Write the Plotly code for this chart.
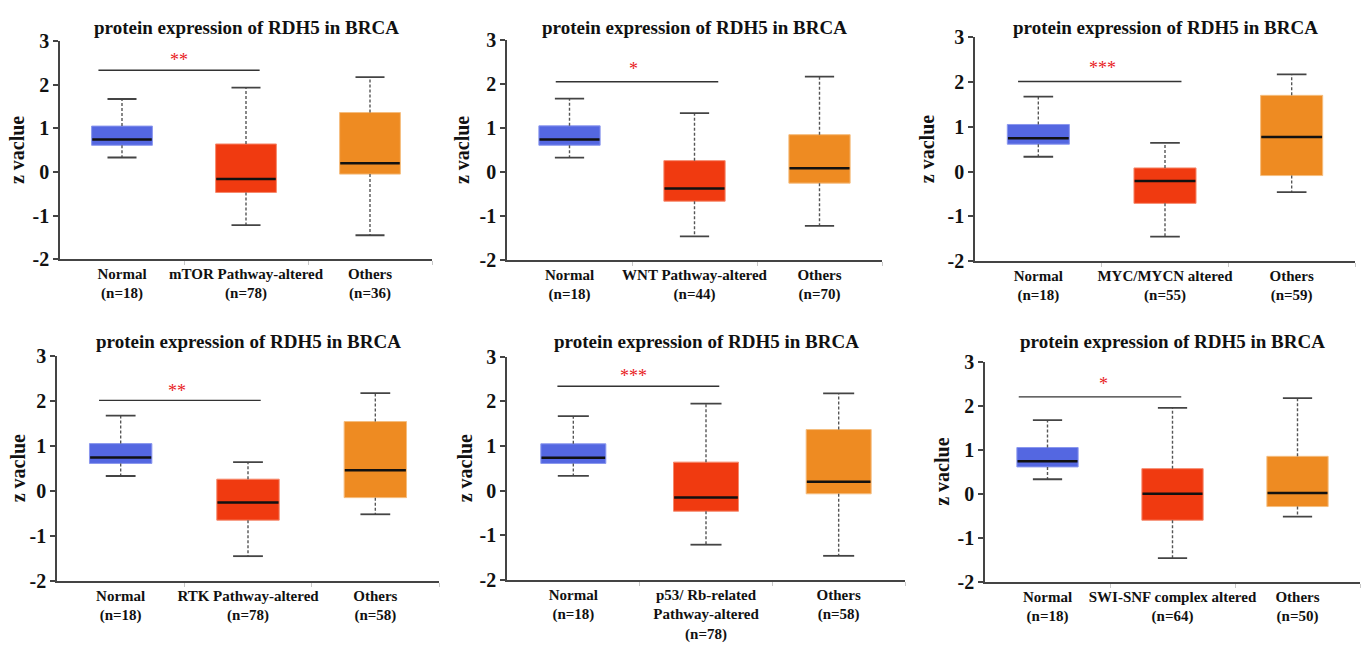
import plotly.graph_objects as go

# ---------------- data ----------------
panel_title = "protein expression of RDH5 in BRCA"
altered_groups = ["mTOR Pathway-altered", "WNT Pathway-altered", "MYC/MYCN altered",
                  "RTK Pathway-altered", "p53/ Rb-related<br>Pathway-altered", "SWI-SNF complex altered"]
n_normal = 18
n_altered = [78, 44, 55, 78, 78, 64]
n_others = [36, 70, 59, 58, 58, 50]

upper_fence = [[1.67, 1.93, 2.17], [1.67, 1.34, 2.17], [1.67, 0.64, 2.17],
               [1.67, 0.64, 2.17], [1.67, 1.95, 2.18], [1.67, 1.95, 2.17]]
q3 = [[1.05, 0.64, 1.36], [1.05, 0.26, 0.85], [1.05, 0.08, 1.70],
      [1.05, 0.26, 1.54], [1.05, 0.64, 1.37], [1.05, 0.57, 0.85]]
median = [[0.74, -0.16, 0.20], [0.74, -0.37, 0.09], [0.74, -0.21, 0.77],
          [0.74, -0.26, 0.46], [0.74, -0.15, 0.20], [0.74, 0.00, 0.02]]
q1 = [[0.61, -0.47, -0.05], [0.61, -0.66, -0.25], [0.61, -0.71, -0.09],
      [0.61, -0.65, -0.15], [0.61, -0.46, -0.07], [0.61, -0.60, -0.29]]
lower_fence = [[0.33, -1.22, -1.45], [0.33, -1.46, -1.22], [0.33, -1.45, -0.46],
               [0.33, -1.45, -0.52], [0.33, -1.21, -1.46], [0.33, -1.46, -0.52]]

sig_labels = ["**", "*", "***", "**", "***", "*"]
sig_y = [2.33, 2.05, 2.01, 2.01, 2.34, 2.20]
y_ticks = [-2, -1, 0, 1, 2, 3]
y_tick_text = ["-2", "-1", "0", "1", "2", "3"]

# ---------------- layout / style ----------------
W, H = 1365, 646
# axis pixel boxes: (x0, x1, ytop, ybottom)
boxes_px = [(60, 432, 31, 257), (507, 882, 30, 258), (975, 1355, 27, 259),
            (57, 439, 357, 590), (507, 905, 358, 589), (985, 1360, 363, 591)]
title_py = [17, 17, 17, 342, 342, 342]
ytitle_px = [17, 462, 927, 18, 465, 942]
sig_x0 = [-0.19, -0.11, -0.16, -0.17, -0.12, -0.23]
sig_x1 = [1.11, 1.19, 1.13, 1.10, 1.10, 1.07]
star_x = [0.46, 0.51, 0.51, 0.445, 0.455, 0.45]
star_dy = [0.23, 0.29, 0.29, 0.20, 0.24, 0.30]

fill_colors = ["#5467e1", "#f03a10", "#ee8b22"]
edge_colors = ["#8a97ee", "#f6896c", "#f5bd7e"]
FONT = "Liberation Serif"
BOX_W = 0.49
CAP_HALF = 0.117

fig = go.Figure()
layout = dict(width=W, height=H, margin=dict(l=0, r=0, t=0, b=0),
              paper_bgcolor="white", plot_bgcolor="white", showlegend=False,
              font=dict(family=FONT), annotations=[])

for p in range(6):
    k = "" if p == 0 else str(p + 1)
    xa, ya = "x" + k, "y" + k
    x0, x1, yt, yb = boxes_px[p]
    labels = [f"<b>Normal</b><br><b>(n={n_normal})</b>",
              "<br>".join(f"<b>{s}</b>" for s in altered_groups[p].split("<br>")) + f"<br><b>(n={n_altered[p]})</b>",
              f"<b>Others</b><br><b>(n={n_others[p]})</b>"]
    # boxes as floating bars
    fig.add_trace(go.Bar(x=[0, 1, 2], base=q1[p],
                         y=[q3[p][i] - q1[p][i] for i in range(3)],
                         width=BOX_W, marker=dict(color=fill_colors, line=dict(color=edge_colors, width=1)),
                         xaxis=xa, yaxis=ya, hoverinfo="skip"))
    for i in range(3):
        # whiskers (dashed)
        for a, b in ((q3[p][i], upper_fence[p][i]), (q1[p][i], lower_fence[p][i])):
            fig.add_trace(go.Scatter(x=[i, i], y=[a, b], mode="lines",
                                     line=dict(color="#555555", width=1.4, dash="3px,2px"),
                                     xaxis=xa, yaxis=ya, hoverinfo="skip"))
        # caps
        for v in (upper_fence[p][i], lower_fence[p][i]):
            fig.add_trace(go.Scatter(x=[i - CAP_HALF, i + CAP_HALF], y=[v, v], mode="lines",
                                     line=dict(color="#444444", width=1.8),
                                     xaxis=xa, yaxis=ya, hoverinfo="skip"))
        # median
        fig.add_trace(go.Scatter(x=[i - BOX_W / 2 + 0.005, i + BOX_W / 2 - 0.005],
                                 y=[median[p][i]] * 2, mode="lines",
                                 line=dict(color="#111111", width=2.5),
                                 xaxis=xa, yaxis=ya, hoverinfo="skip"))
    # significance line
    fig.add_trace(go.Scatter(x=[sig_x0[p], sig_x1[p]], y=[sig_y[p], sig_y[p]], mode="lines",
                             line=dict(color="#333333", width=1.4),
                             xaxis=xa, yaxis=ya, hoverinfo="skip"))
    layout["annotations"].append(dict(x=star_x[p], y=sig_y[p] + star_dy[p], xref=xa, yref=ya,
                                      text=sig_labels[p], showarrow=False,
                                      font=dict(family=FONT, size=18, color="#e8211c")))

    layout["xaxis" + k] = dict(domain=[x0 / W, x1 / W], anchor=ya, range=[-0.5, 2.5],
                               tickvals=[0, 1, 2], ticktext=labels, ticks="", showgrid=False,
                               zeroline=False, showline=True, linecolor="#444444", linewidth=1.5,
                               tickfont=dict(family=FONT, size=15, color="#111111"),
                               minor=dict(tickvals=[0.5, 1.5, 2.5], ticks="outside", ticklen=4,
                                          tickcolor="#c8c8c8", tickwidth=1),
                               fixedrange=True)
    layout["yaxis" + k] = dict(domain=[1 - yb / H, 1 - yt / H], anchor=xa, range=[-2, 3],
                               tickvals=y_ticks, ticktext=[f"<b>{t}</b>" for t in y_tick_text],
                               ticks="outside", ticklen=5, tickwidth=1.5,
                               tickcolor="#444444", showgrid=False, zeroline=False, showline=True,
                               linecolor="#444444", linewidth=1.5,
                               tickfont=dict(family=FONT, size=20, color="#111111"),
                               fixedrange=True)
    layout["annotations"].append(dict(x=(x0 + x1) / 2 / W, y=1 - title_py[p] / H, xref="paper",
                                      yref="paper", text=f"<b>{panel_title}</b>", showarrow=False,
                                      yanchor="middle", xanchor="center",
                                      font=dict(family=FONT, size=19, color="#111111")))
    layout["annotations"].append(dict(x=ytitle_px[p] / W, y=1 - (yt + yb) / 2 / H, xref="paper",
                                      yref="paper", text="<b>z vaclue</b>", textangle=-90, showarrow=False,
                                      xanchor="center", yanchor="middle",
                                      font=dict(family=FONT, size=20, color="#111111")))

fig.update_layout(**layout)
fig.write_html("out.html")
